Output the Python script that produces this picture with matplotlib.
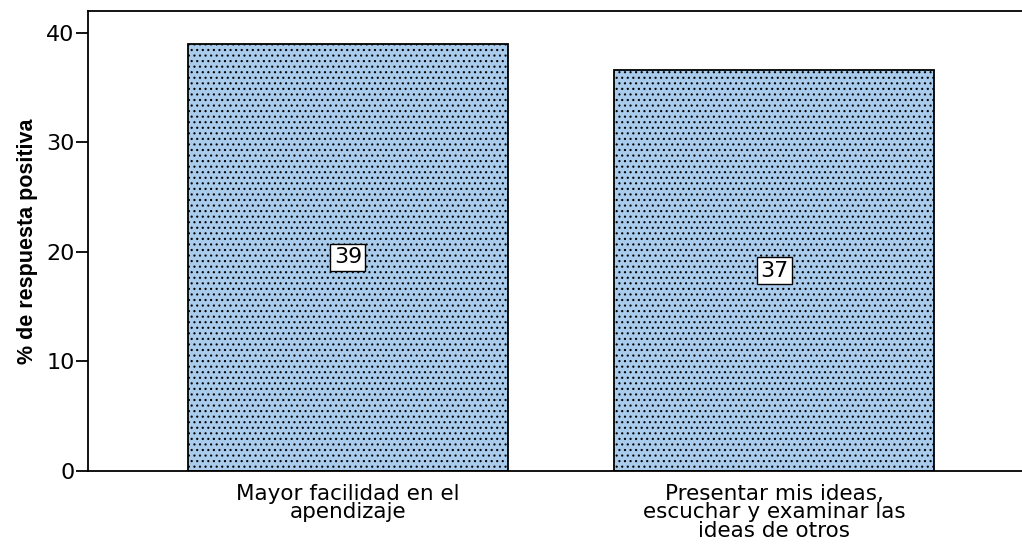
import matplotlib.pyplot as plt
import matplotlib as mpl

categorias = ['Mayor facilidad en el\napendizaje',
              'Presentar mis ideas,\nescuchar y examinar las\nideas de otros']
valores = [39.0, 36.6]
etiquetas = ['39', '37']

plt.rcParams['font.family'] = ['DejaVu Sans']
mpl.rcParams['hatch.color'] = '#34465a'
mpl.rcParams['hatch.linewidth'] = 0.8

fig = plt.figure(figsize=(10.22, 5.48), dpi=100)
ax = fig.add_axes([88 / 1022, 77 / 548, 946 / 1022, 460 / 548])

x = range(len(categorias))
bars = ax.bar(x, valores, width=0.75, color='#a9cbec', edgecolor='black',
              linewidth=1.3, hatch='...', zorder=2)

for b, v, t in zip(bars, valores, etiquetas):
    ax.text(b.get_x() + b.get_width() / 2, v / 2, t, ha='center', va='center',
            fontsize=16, zorder=3,
            bbox=dict(boxstyle='square,pad=0.15', fc='white', ec='black', lw=1))

ax.set_xlim(-0.61, 1.61)
ax.set_ylim(0, 42)
ax.set_yticks([0, 10, 20, 30, 40])
ax.set_xticks(list(x))
ax.set_xticklabels(categorias, fontsize=15.5, linespacing=0.92)
ax.tick_params(axis='x', length=0, pad=9)
ax.tick_params(axis='y', labelsize=16, length=8.5, width=1.3, direction='out', pad=1)
for s in ax.spines.values():
    s.set_linewidth(1.3)

ax.set_ylabel('% de respuesta positiva', fontsize=15.5, fontweight='bold',
              family=['Liberation Sans Narrow', 'Liberation Sans', 'DejaVu Sans'],
              labelpad=6)

fig.savefig('out.png', dpi=100)
